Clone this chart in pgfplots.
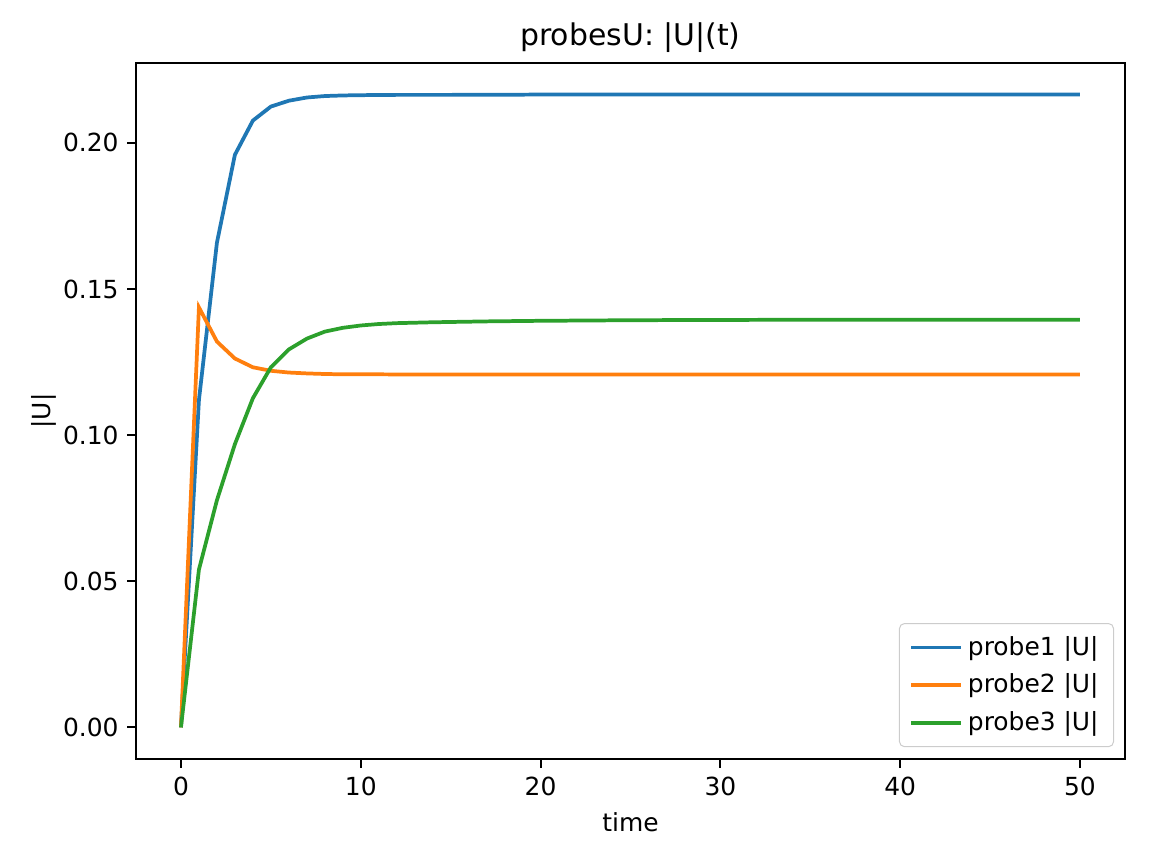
\documentclass[border=0pt]{standalone}
\usepackage{fontspec}
\setmainfont{DejaVu Sans}
\usepackage{pgfplots}
\pgfplotsset{compat=1.18}
\definecolor{c0}{HTML}{1F77B4}
\definecolor{c1}{HTML}{FF7F0E}
\definecolor{c2}{HTML}{2CA02C}
\begin{document}
\begin{tikzpicture}
\begin{axis}[
  at={(0,0)}, anchor=south west,
  scale only axis, width=5.494in, height=3.867in,
  xmin=-2.5, xmax=52.5, ymin=-0.010825, ymax=0.227325,
  xtick={0,10,20,30,40,50},
  ytick={0,0.05,0.10,0.15,0.20},
  yticklabel style={/pgf/number format/.cd, fixed, fixed zerofill, precision=2},
  /pgf/number format/assume math mode=true,
  tick align=outside, tick pos=left, major tick length=3.5pt,
  tick style={black, line width=0.8pt},
  axis line style={line width=0.8pt},
  ticklabel style={font=\fontsize{10}{12}\selectfont},
  scaled y ticks=false,
  title={probesU: |U|(t)},
  title style={font=\fontsize{12}{14}\selectfont, yshift=-5.5pt},
  xlabel={time}, ylabel={|U|},
  label style={font=\fontsize{10}{12}\selectfont},
  ylabel style={yshift=-4pt},
  legend style={at={(0.989,0.017)}, anchor=south east, font=\fontsize{10}{12}\selectfont,
    draw=black!20, rounded corners=2pt, row sep=2pt, inner xsep=4pt, inner ysep=3pt},
  legend cell align=left,
  legend image code/.code={\draw[#1] (0pt,0pt) -- (20pt,0pt);},
  every axis plot/.append style={line width=1.5pt},
]
\addplot[c0] coordinates {
(0,0) (1,0.112) (2,0.1658) (3,0.1959) (4,0.2076) (5,0.2124) (6,0.2144) (7,0.2155) (8,0.2160) (9,0.2162) (10,0.2163) (12,0.2164) (15,0.2164) (20,0.2165) (30,0.2165) (40,0.2165) (50,0.2165)};
\addlegendentry{probe1 |U|}
\addplot[c1] coordinates {
(0,0) (1,0.1437) (2,0.1320) (3,0.1262) (4,0.1232) (5,0.1220) (6,0.1214) (7,0.1211) (8,0.1209) (9,0.1208) (10,0.1208) (15,0.1207) (20,0.1207) (30,0.1207) (40,0.1207) (50,0.1207)};
\addlegendentry{probe2 |U|}
\addplot[c2] coordinates {
(0,0) (1,0.054) (2,0.0777) (3,0.0969) (4,0.1126) (5,0.1232) (6,0.1293) (7,0.1330) (8,0.1354) (9,0.1367) (10,0.1375) (11,0.1380) (12,0.1383) (14,0.1386) (17,0.1389) (20,0.1391) (25,0.1393) (30,0.1394) (40,0.1395) (50,0.1395)};
\addlegendentry{probe3 |U|}
\end{axis}
\path[use as bounding box] (-0.7556in,-0.5833in) rectangle (5.6444in,4.2167in);
\end{tikzpicture}
\end{document}
